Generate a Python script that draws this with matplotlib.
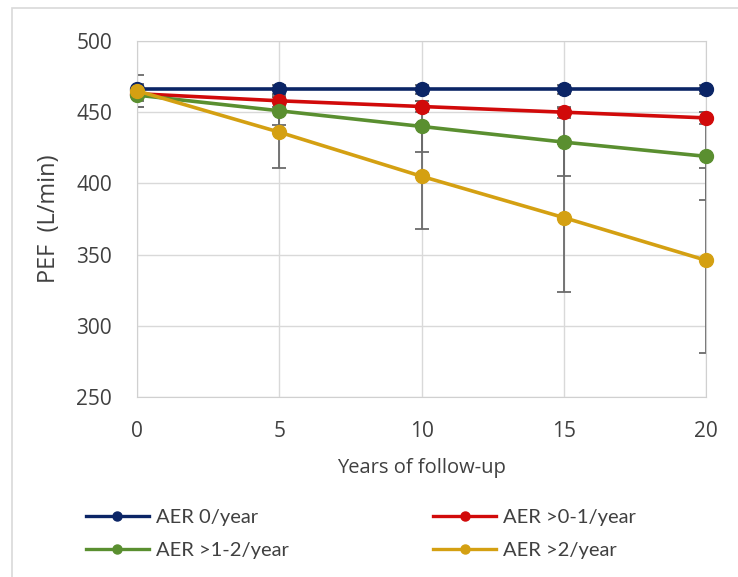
import matplotlib.pyplot as plt
from matplotlib.patches import Rectangle

# Follow-up years and mean PEF per exacerbation-rate group
years = [0, 5, 10, 15, 20]
labels = ["AER 0/year", "AER >0-1/year", "AER >1-2/year", "AER >2/year"]
pef_0 = [466, 466, 466, 466, 466]
pef_0_1 = [463, 458, 454, 450, 446]
pef_1_2 = [462, 451, 440, 429, 419]
pef_2 = [465, 436, 405, 376, 346]

# standard deviations (error bars)
sd_0 = [3, 3, 3, 3, 3]
sd_0_1 = [5, 4, 4, 4, 4]
sd_1_2 = [8, 10, 18, 24, 31]
sd_2 = [11, 25, 37, 52, 65]

colors = ["#0b2566", "#d10a0a", "#5a8f30", "#d4a012"]

plt.rcParams['font.family'] = ['Open Sans', 'DejaVu Sans']

fig = plt.figure(figsize=(7.38, 5.77), dpi=100)
ax = fig.add_axes([137 / 738, 1 - 397 / 577, (706 - 137) / 738, (397 - 41) / 577])

# light frame around the whole chart, like the Excel chart area
fig.patches.append(Rectangle((12 / 738, -0.01), 1.0, 1 - 8 / 577 + 0.01,
                             transform=fig.transFigure, fill=False,
                             edgecolor="#d9d9d9", linewidth=1.2))

series = [pef_0, pef_0_1, pef_1_2, pef_2]
errors = [sd_0, sd_0_1, sd_1_2, sd_2]

for vals, err in zip(series, errors):
    ax.errorbar(years, vals, yerr=err, fmt="none", ecolor="#6b6b6b",
                elinewidth=1.3, capsize=5, capthick=1.3, zorder=2)

lines = []
for vals, col, lab in zip(series, colors, labels):
    ln, = ax.plot(years, vals, "-o", color=col, linewidth=2.6, markersize=10,
                  label=lab, zorder=3, clip_on=False)
    lines.append(ln)

ax.set_xlim(0, 20)
ax.set_ylim(250, 500)
ax.set_xticks(years)
ax.set_yticks([250, 300, 350, 400, 450, 500])
ax.grid(True, color="#d9d9d9", linewidth=1)
ax.set_axisbelow(True)
for s in ax.spines.values():
    s.set_color("#d0d0d0")
ax.tick_params(length=0, labelsize=15, colors="#404040")
ax.tick_params(axis="y", pad=18)
ax.tick_params(axis="x", pad=17)

ax.set_xlabel("Years of follow-up", fontsize=14.5, color="#404040", labelpad=12)
ax.set_ylabel("PEF  (L/min)", fontsize=17, color="#404040", labelpad=11)

# legend: row by row, so reorder for matplotlib's column filling
order = [0, 2, 1, 3]
leg = fig.legend([lines[i] for i in order], [labels[i] for i in order],
                 loc="center left", bbox_to_anchor=(68 / 738, 1 - 534 / 577),
                 ncol=2, frameon=False, handlelength=3.1,
                 columnspacing=7.2, handletextpad=0.35, labelspacing=0.75,
                 prop={'family': 'Lato', 'size': 14.5})
for t in leg.get_texts():
    t.set_color("#404040")
for h in leg.legend_handles:
    h.set_markersize(6.5)
    h.set_linewidth(2.4)

plt.savefig("out.png", dpi=100)
